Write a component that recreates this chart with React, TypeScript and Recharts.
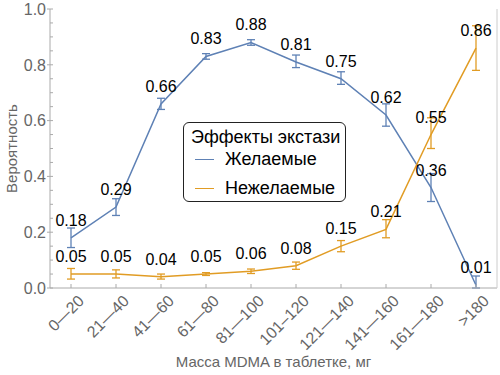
import React from 'react';
import {
  LineChart,
  Line,
  XAxis,
  YAxis,
  ErrorBar,
  LabelList,
  Legend
} from 'recharts';

const categories = ['0—20', '21—40', '41—60', '61—80', '81—100', '101–120', '121—140', '141—160', '161—180', '>180'];

const wanted = [0.18, 0.29, 0.66, 0.83, 0.88, 0.81, 0.75, 0.62, 0.36, 0.01];
const wantedLow = [0.145, 0.26, 0.64, 0.82, 0.87, 0.79, 0.73, 0.58, 0.31, 0.0];
const wantedHigh = [0.215, 0.32, 0.68, 0.84, 0.89, 0.835, 0.775, 0.66, 0.41, 0.043];

const unwanted = [0.05, 0.05, 0.04, 0.05, 0.06, 0.08, 0.15, 0.21, 0.55, 0.86];
const unwantedLow = [0.032, 0.036, 0.032, 0.045, 0.052, 0.067, 0.13, 0.18, 0.5, 0.78];
const unwantedHigh = [0.07, 0.065, 0.05, 0.055, 0.068, 0.093, 0.17, 0.245, 0.61, 0.94];

const yTicks = [0, 0.05, 0.1, 0.15, 0.2, 0.25, 0.3, 0.35, 0.4, 0.45, 0.5, 0.55, 0.6, 0.65, 0.7, 0.75, 0.8, 0.85, 0.9, 0.95, 1];

const BLUE = '#5e81b5';
const ORANGE = '#e19c24';
const GREY = '#666';
const FONT = '"Liberation Sans", Arial, sans-serif';

const data = categories.map((cat, i) => ({
  cat,
  wanted: wanted[i],
  wantedErr: [wanted[i] - wantedLow[i], wantedHigh[i] - wanted[i]],
  unwanted: unwanted[i],
  unwantedErr: [unwanted[i] - unwantedLow[i], unwantedHigh[i] - unwanted[i]]
}));

const isMajor = (v: number) => Math.abs(v * 5 - Math.round(v * 5)) < 1e-6;

const LeftTick = (props: any) => {
  const { x, y, payload } = props;
  const v = payload.value as number;
  const major = isMajor(v);
  return (
    <g>
      <line x1={major ? x - 3 : x} x2={x + 3} y1={y} y2={y} stroke="#aaa" />
      {major && (
        <text x={x - 4} y={y} dy="0.36em" textAnchor="end" fill={GREY} fontSize={16} fontFamily={FONT}>
          {v.toFixed(1)}
        </text>
      )}
    </g>
  );
};

const RightTick = (props: any) => {
  const { x, y } = props;
  return <line x1={x} x2={x + 3} y1={y} y2={y} stroke="#aaa" />;
};

const BottomTick = (props: any) => {
  const { x, y, payload } = props;
  const ax = x + 14;
  const ay = y + 14;
  return (
    <g>
      <line x1={x} x2={x} y1={y} y2={y - 4} stroke="#aaa" />
      <text x={ax} y={ay} textAnchor="end" transform={`rotate(-45 ${ax} ${ay})`} fill={GREY} fontSize={16} fontFamily={FONT}>
        {payload.value}
      </text>
    </g>
  );
};

const LegendBox = () => (
  <div
    style={{
      border: '1px solid #222',
      borderRadius: 6,
      background: '#fff',
      width: 161,
      padding: '2px 0 3px 0',
      fontFamily: FONT,
      fontSize: 18,
      color: '#000',
      boxSizing: 'content-box'
    }}
  >
    <div style={{ lineHeight: '24px', paddingLeft: 7, whiteSpace: 'nowrap' }}>Эффекты экстази</div>
    {[
      { name: 'Желаемые', color: BLUE, gap: 0 },
      { name: 'Нежелаемые', color: ORANGE, gap: 9 }
    ].map((it) => (
      <div key={it.name} style={{ display: 'flex', alignItems: 'center', lineHeight: '20px', marginTop: it.gap, whiteSpace: 'nowrap' }}>
        <span style={{ display: 'inline-block', width: 19, height: 0, borderTop: `1.5px solid ${it.color}`, marginLeft: 11, marginRight: 11 }} />
        <span>{it.name}</span>
      </div>
    ))}
  </div>
);

export default function App() {
  return (
    <div style={{ position: 'absolute', left: 0, top: 0, background: '#fff' }}>
      <LineChart width={500} height={375} data={data} margin={{ top: 9, right: 0, bottom: 0, left: 0 }}>
        <XAxis
          dataKey="cat"
          height={87}
          interval={0}
          padding={{ left: 21, right: 21 }}
          tickSize={0}
          tickMargin={0}
          tick={<BottomTick />}
          axisLine={{ stroke: '#aaa' }}
          label={{ value: 'Масса MDMA в таблетке, мг', position: 'insideBottom', offset: 8, fill: GREY, fontSize: 15, fontFamily: FONT }}
        />
        <XAxis xAxisId="top" dataKey="cat" orientation="top" height={0} tick={false} tickLine={false} axisLine={{ stroke: '#ccc' }} padding={{ left: 21, right: 21 }} />
        <YAxis
          yAxisId="left"
          width={50}
          domain={[0, 1]}
          ticks={yTicks}
          interval={0}
          tickSize={0}
          tickMargin={0}
          tick={<LeftTick />}
          axisLine={{ stroke: '#aaa' }}
          label={{ value: 'Вероятность', angle: -90, position: 'insideLeft', offset: 12, fill: GREY, fontSize: 15, fontFamily: FONT, style: { textAnchor: 'middle' } }}
        />
        <YAxis
          yAxisId="right"
          orientation="right"
          width={3}
          domain={[0, 1]}
          ticks={yTicks}
          interval={0}
          tickSize={0}
          tickMargin={0}
          tick={<RightTick />}
          axisLine={{ stroke: '#ccc' }}
        />
        <Legend
          layout="vertical"
          align="center"
          verticalAlign="middle"
          content={<LegendBox />}
          wrapperStyle={{ left: 183, top: 122, width: 'auto' }}
        />
        <Line
          yAxisId="left"
          dataKey="wanted"
          name="Желаемые"
          stroke={BLUE}
          strokeWidth={1.5}
          dot={false}
          isAnimationActive={false}
        >
          <ErrorBar dataKey="wantedErr" width={4} stroke={BLUE} strokeWidth={1.3} direction="y" />
          <LabelList dataKey="wanted" position="top" offset={12} fill="#000" fontSize={16} fontFamily={FONT} formatter={(v: any) => Number(v).toFixed(2)} />
        </Line>
        <Line
          yAxisId="left"
          dataKey="unwanted"
          name="Нежелаемые"
          stroke={ORANGE}
          strokeWidth={1.5}
          dot={false}
          isAnimationActive={false}
        >
          <ErrorBar dataKey="unwantedErr" width={4} stroke={ORANGE} strokeWidth={1.3} direction="y" />
          <LabelList dataKey="unwanted" position="top" offset={12} fill="#000" fontSize={16} fontFamily={FONT} formatter={(v: any) => Number(v).toFixed(2)} />
        </Line>
      </LineChart>
    </div>
  );
}
